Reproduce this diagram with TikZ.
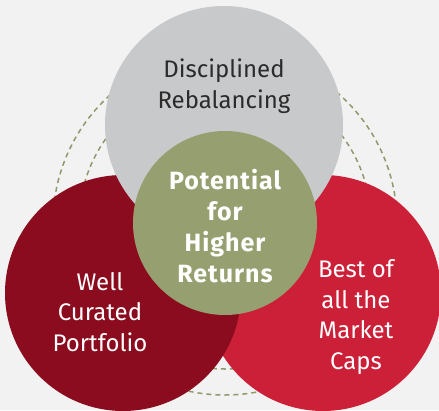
\documentclass[tikz,border=0pt]{standalone}
\usepackage{fontspec}
\setsansfont{Fira Sans}
\renewcommand{\familydefault}{\sfdefault}

\definecolor{bggray}{HTML}{F2F2F2}
\definecolor{topgray}{HTML}{C8C9CB}
\definecolor{darkred}{HTML}{8A0C1E}
\definecolor{brightred}{HTML}{CB2037}
\definecolor{olive}{HTML}{959F6F}
\definecolor{dashgreen}{HTML}{8F9A6A}
\definecolor{textdark}{HTML}{2B2B2B}

\tikzset{
	ring/.style={draw=dashgreen, line width=1.5pt, dash pattern=on 5pt off 4pt},
	label/.style={align=center, inner sep=0pt, font=\fontsize{24}{30.5}\selectfont},
	boldlabel/.style={label, font=\fontsize{25}{31}\selectfont\bfseries\addfontfeature{LetterSpace=4}}
}

\begin{document}
\begin{tikzpicture}[x=1pt, y=-1pt]
	\useasboundingbox (0,0) rectangle (439,410);
	\fill[bggray] (0,0) rectangle (439,410);
	\clip (0,0) rectangle (439,410);

	\draw[ring] (225,223) circle [radius=172pt];
	\draw[ring] (225,223) circle [radius=146pt];

	\fill[brightred] (323,293) circle [radius=118pt];
	\fill[darkred] (123,293) circle [radius=118pt];
	\fill[topgray] (224,125) circle [radius=119pt];
	\fill[olive] (225,223) circle [radius=92pt];

	\node[label, text=textdark] (disc) at (224,86) {Disciplined\\Rebalancing};
	\node[boldlabel, text=white] (potential) at (225,226) {Potential\\for\\Higher\\Returns};
	\node[label, text=white] (curated) at (100,312) {Well\\Curated\\Portfolio};
	\node[label, text=white] (caps) at (356,317) {Best of\\all the\\Market\\Caps};
\end{tikzpicture}
\end{document}
